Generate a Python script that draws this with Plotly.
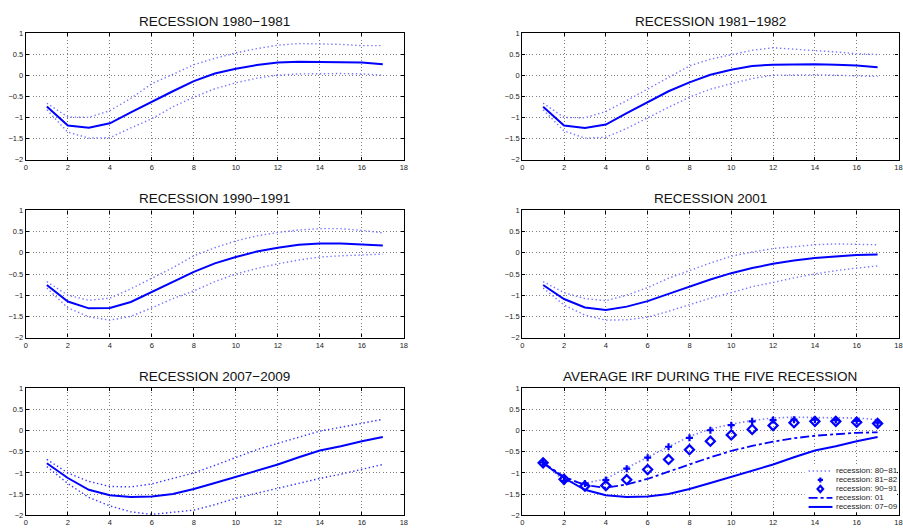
import plotly.graph_objects as go
from plotly.subplots import make_subplots

# Horizon (quarters after the shock)
horizon = list(range(1, 18))

# Impulse responses and confidence bands for each recession
irf_80_81 = [-0.74, -1.19, -1.245, -1.14, -0.88, -0.62, -0.38, -0.14, 0.04, 0.155, 0.24, 0.30, 0.32, 0.31, 0.31, 0.30, 0.26]
hi_80_81 = [-0.665, -0.99, -1.0, -0.84, -0.55, -0.2, 0.02, 0.25, 0.40, 0.53, 0.63, 0.71, 0.75, 0.74, 0.73, 0.70, 0.70]
lo_80_81 = [-0.82, -1.35, -1.49, -1.48, -1.25, -1.03, -0.75, -0.52, -0.32, -0.18, -0.07, 0.0, 0.03, 0.04, 0.04, 0.03, 0.0]

irf_81_82 = [-0.75, -1.19, -1.25, -1.17, -0.9, -0.64, -0.38, -0.17, 0.01, 0.13, 0.22, 0.25, 0.26, 0.26, 0.25, 0.23, 0.19]
hi_81_82 = [-0.66, -1.0, -1.01, -0.86, -0.6, -0.32, -0.05, 0.22, 0.38, 0.49, 0.59, 0.65, 0.62, 0.59, 0.55, 0.51, 0.49]
lo_81_82 = [-0.82, -1.32, -1.49, -1.47, -1.26, -1.0, -0.76, -0.52, -0.33, -0.2, -0.08, 0.0, 0.01, 0.01, 0.0, -0.01, -0.03]

irf_90_91 = [-0.76, -1.15, -1.31, -1.30, -1.16, -0.92, -0.68, -0.45, -0.25, -0.1, 0.03, 0.12, 0.19, 0.22, 0.22, 0.2, 0.17]
hi_90_91 = [-0.68, -1.0, -1.12, -1.07, -0.85, -0.6, -0.35, -0.07, 0.12, 0.28, 0.4, 0.48, 0.54, 0.57, 0.57, 0.53, 0.47]
lo_90_91 = [-0.83, -1.3, -1.51, -1.59, -1.5, -1.3, -1.08, -0.9, -0.68, -0.5, -0.37, -0.26, -0.17, -0.1, -0.07, -0.05, -0.03]

irf_01 = [-0.76, -1.09, -1.29, -1.35, -1.27, -1.14, -0.97, -0.8, -0.63, -0.48, -0.36, -0.26, -0.18, -0.12, -0.08, -0.05, -0.04]
hi_01 = [-0.68, -0.94, -1.08, -1.13, -1.0, -0.82, -0.6, -0.42, -0.24, -0.08, 0.02, 0.1, 0.15, 0.19, 0.21, 0.2, 0.19]
lo_01 = [-0.83, -1.23, -1.47, -1.59, -1.58, -1.52, -1.38, -1.22, -1.07, -0.94, -0.8, -0.7, -0.59, -0.5, -0.42, -0.36, -0.31]

irf_07_09 = [-0.77, -1.12, -1.40, -1.53, -1.57, -1.56, -1.5, -1.38, -1.24, -1.09, -0.94, -0.8, -0.63, -0.47, -0.37, -0.25, -0.15]
hi_07_09 = [-0.68, -1.0, -1.2, -1.32, -1.33, -1.26, -1.13, -1.0, -0.82, -0.64, -0.45, -0.3, -0.15, -0.01, 0.08, 0.18, 0.27]
lo_07_09 = [-0.85, -1.25, -1.58, -1.78, -1.92, -1.98, -1.93, -1.88, -1.75, -1.6, -1.48, -1.36, -1.25, -1.13, -1.03, -0.91, -0.8]

titles = [
    "RECESSION 1980\u22121981", "RECESSION 1981\u22121982",
    "RECESSION 1990\u22121991", "RECESSION 2001",
    "RECESSION 2007\u22122009", "AVERAGE IRF DURING THE FIVE RECESSION",
]
legend_names = ["recession: 80\u221281", "recession: 81\u221282", "recession: 90\u221291",
                "recession: 01", "recession: 07\u221209"]

BLUE = "#0000ff"
BAND = "#7676ff"
BAND_DARK = "#3434ff"
DOTS = "1.4px,2.6px"
FONT = "Liberation Sans"
W, H = 903, 532


def px(x):
    return x / W


def py(y):
    return 1 - y / H


fig = make_subplots(rows=3, cols=2)

panels = [
    (1, 1, irf_80_81, hi_80_81, lo_80_81, BAND),
    (1, 2, irf_81_82, hi_81_82, lo_81_82, BAND),
    (2, 1, irf_90_91, hi_90_91, lo_90_91, BAND),
    (2, 2, irf_01, hi_01, lo_01, BAND),
    (3, 1, irf_07_09, hi_07_09, lo_07_09, BAND_DARK),
]
for r, c, mid, hi, lo, band in panels:
    for b in (hi, lo):
        fig.add_trace(go.Scatter(x=horizon, y=b, mode="lines", showlegend=False,
                                 line=dict(color=band, width=1.4, dash=DOTS)), row=r, col=c)
    fig.add_trace(go.Scatter(x=horizon, y=mid, mode="lines", showlegend=False,
                             line=dict(color=BLUE, width=2)), row=r, col=c)

# Average panel: all five responses overlaid
fig.add_trace(go.Scatter(x=horizon, y=irf_80_81, mode="lines", showlegend=False,
                         line=dict(color=BAND, width=1.6, dash=DOTS)), row=3, col=2)
fig.add_trace(go.Scatter(x=horizon, y=irf_81_82, mode="markers", showlegend=False,
                         marker=dict(symbol="cross-thin", size=5, color=BLUE,
                                     line=dict(color=BLUE, width=2.2))), row=3, col=2)
fig.add_trace(go.Scatter(x=horizon, y=irf_90_91, mode="markers", showlegend=False,
                         marker=dict(symbol="diamond-open", size=7, color=BLUE,
                                     line=dict(color=BLUE, width=2.2))), row=3, col=2)
fig.add_trace(go.Scatter(x=horizon, y=irf_01, mode="lines", showlegend=False,
                         line=dict(color=BLUE, width=1.8, dash="dashdot")), row=3, col=2)
fig.add_trace(go.Scatter(x=horizon, y=irf_07_09, mode="lines", showlegend=False,
                         line=dict(color=BLUE, width=2)), row=3, col=2)

# Axis geometry in pixels
col_x = {1: (24, 404.5), 2: (523.7, 902.5)}
row_y = {1: (29.5, 158.3), 2: (210, 339.3), 3: (391, 520)}

axis_style = dict(
    showline=True, linecolor="black", linewidth=1.2, mirror="ticks",
    ticks="inside", ticklen=3, tickcolor="black", tickwidth=1,
    showgrid=True, gridcolor="#7e7e7e", griddash="1px,2.4px", gridwidth=1,
    zeroline=False, tickfont=dict(family=FONT, size=7.5, color="#222"),
)

k = 0
for r in (1, 2, 3):
    for c in (1, 2):
        x0, x1 = col_x[c]
        y0, y1 = row_y[r]
        fig.update_xaxes(row=r, col=c, domain=[px(x0), px(x1)], range=[0, 18],
                         tick0=0, dtick=2, **axis_style)
        fig.update_yaxes(row=r, col=c, domain=[py(y1), py(y0)], range=[-2, 1],
                         tick0=-2, dtick=0.5, **axis_style)
        fig.add_annotation(text=titles[k], x=px((x0 + x1) / 2), y=py(y0 - 12),
                           xref="paper", yref="paper", showarrow=False,
                           xanchor="center", yanchor="middle",
                           font=dict(family=FONT, size=13.5, color="#111"))
        k += 1

# Compact legend box for the average panel
shapes = [dict(type="rect", xref="paper", yref="paper", layer="above",
               x0=px(808), x1=px(901), y0=py(517), y1=py(470),
               fillcolor="white", line=dict(width=0))]
key_x0, key_x1, key_xc = 812, 836, 823.8
row_step = 9.15
for i, name in enumerate(legend_names):
    yc = 475 + i * row_step
    if i == 0:
        shapes.append(dict(type="line", xref="paper", yref="paper", layer="above",
                           x0=px(key_x0), x1=px(key_x1), y0=py(yc), y1=py(yc),
                           line=dict(color=BAND, width=1.6, dash=DOTS)))
    elif i == 1:
        s = 2.6
        path = (f"M{px(key_xc - s)},{py(yc)} L{px(key_xc + s)},{py(yc)} "
                f"M{px(key_xc)},{py(yc - s)} L{px(key_xc)},{py(yc + s)}")
        shapes.append(dict(type="path", xref="paper", yref="paper", layer="above",
                           path=path, line=dict(color=BLUE, width=2.2)))
    elif i == 2:
        hw, hh = 2.8, 3.2
        path = (f"M{px(key_xc)},{py(yc - hh)} L{px(key_xc + hw)},{py(yc)} "
                f"L{px(key_xc)},{py(yc + hh)} L{px(key_xc - hw)},{py(yc)} Z")
        shapes.append(dict(type="path", xref="paper", yref="paper", layer="above",
                           path=path, line=dict(color=BLUE, width=2.2)))
    elif i == 3:
        shapes.append(dict(type="line", xref="paper", yref="paper", layer="above",
                           x0=px(key_x0), x1=px(key_x1), y0=py(yc), y1=py(yc),
                           line=dict(color=BLUE, width=1.8, dash="dashdot")))
    else:
        shapes.append(dict(type="line", xref="paper", yref="paper", layer="above",
                           x0=px(key_x0), x1=px(key_x1), y0=py(yc), y1=py(yc),
                           line=dict(color=BLUE, width=2)))
    fig.add_annotation(text=name, x=px(838), y=py(yc), xref="paper", yref="paper",
                       showarrow=False, xanchor="left", yanchor="middle",
                       font=dict(family=FONT, size=8, color="#222"))

fig.update_layout(
    width=W, height=H,
    margin=dict(l=0, r=0, t=0, b=0),
    paper_bgcolor="white", plot_bgcolor="white",
    showlegend=False,
    shapes=shapes,
)

fig.write_html("out.html")
